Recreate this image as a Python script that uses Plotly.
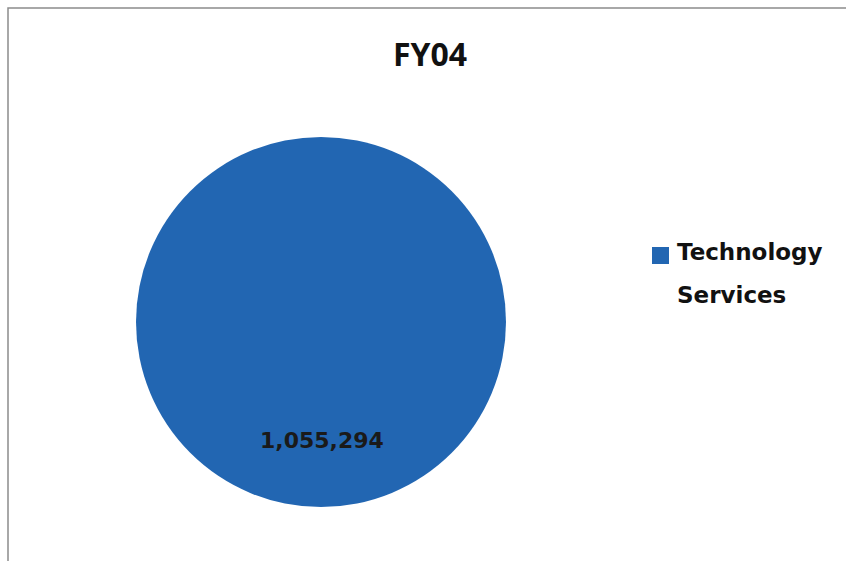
import plotly.graph_objects as go

title_text = "FY04"
labels = ["Technology Services"]
values = [1055294]
colors = ["#2266B2"]

W, H = 846, 561

def px(x):
    return x / W

def py(y):
    return 1 - y / H

fig = go.Figure()
fig.add_trace(go.Pie(
    labels=labels,
    values=values,
    marker=dict(colors=colors, line=dict(width=0)),
    textinfo="none",
    sort=False,
    direction="clockwise",
    showlegend=False,
    domain=dict(x=[px(135), px(507)], y=[py(507), py(137)]),
))

# data label
fig.add_annotation(
    x=px(322), y=py(440), xref="paper", yref="paper",
    text=f"{values[0]:,}", showarrow=False,
    font=dict(family="DejaVu Sans", size=22, color="#1a1a1a", weight="bold"),
    xanchor="center", yanchor="middle",
)

# custom legend
fig.add_shape(type="rect", xref="paper", yref="paper",
              x0=px(652), x1=px(669), y0=py(264), y1=py(247),
              fillcolor=colors[0], line=dict(width=0))
words = labels[0].split(" ")
line_y = [252, 295]
for w, yy in zip(words, line_y):
    fig.add_annotation(
        x=px(675), y=py(yy), xref="paper", yref="paper",
        text=w, showarrow=False,
        font=dict(family="DejaVu Sans", size=23, color="#111111", weight="bold"),
        xanchor="left", yanchor="middle",
    )

# title
fig.add_annotation(
    x=px(430), y=py(53), xref="paper", yref="paper",
    text=title_text, showarrow=False,
    font=dict(family="Open Sans", size=32, color="#111111", weight="bold"),
    xanchor="center", yanchor="middle",
)

# chart border
fig.add_shape(type="rect", xref="paper", yref="paper",
              x0=px(8), x1=1.02, y0=-0.02, y1=py(8),
              line=dict(color="#8c8c8c", width=1.5), fillcolor="rgba(0,0,0,0)")

fig.update_layout(
    width=W, height=H,
    margin=dict(l=0, r=0, t=0, b=0),
    paper_bgcolor="white", plot_bgcolor="white",
)

fig.write_html("out.html")
